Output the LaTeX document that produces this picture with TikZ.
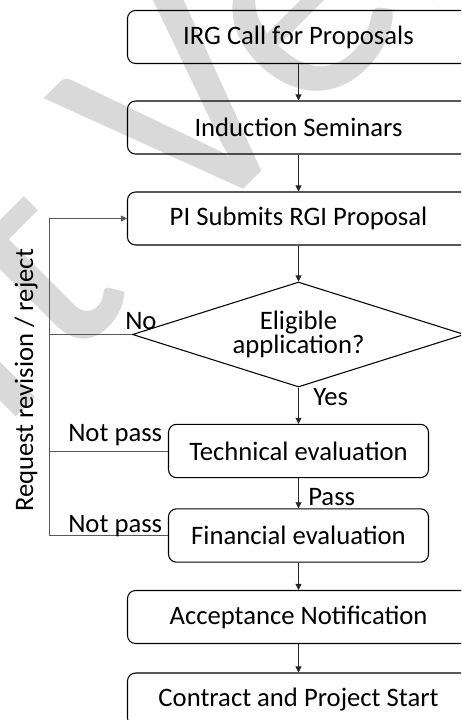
\documentclass[tikz,border=0pt]{standalone}
\usepackage{fontspec}
\setmainfont{Carlito}
\usetikzlibrary{arrows.meta,shapes.geometric}
\definecolor{wm}{RGB}{217,217,217}
\begin{document}
\begin{tikzpicture}[x=0.75pt,y=-0.75pt,
  txt/.style={font=\fontsize{20}{24}\selectfont, inner sep=0pt},
  box/.style={txt, draw=black, line width=0.8pt, rounded corners=6pt,
    minimum width=256.5pt, minimum height=39.75pt},
  sbox/.style={box, minimum width=195pt, minimum height=40pt},
  dia/.style={txt, font=\fontsize{20}{17.25}\selectfont, draw=black, line width=0.8pt,
    diamond, shape aspect=3.16, minimum width=249pt, minimum height=78.75pt, align=center},
  arr/.style={draw=black!85, line width=0.6pt, -{Triangle[length=4.5pt,width=4.5pt]}},
  fb/.style={draw=black!65, line width=0.6pt},
  lbl/.style={txt, anchor=base west},
]
\clip (0,0) rectangle (461,720);
% watermark
\node[rotate=45, anchor=base west, text=wm, inner sep=0pt,
  font=\fontsize{240}{240}\selectfont] (wmark) at (-323,756) {Draft Version};
% main flow
\node[box] (b1) at (298.5,37) {IRG Call for Proposals};
\node[box] (b2) at (298.5,127.5) {Induction Seminars};
\node[box] (b3) at (298.5,218.5) {PI Submits RGI Proposal};
\node[dia] (d) at (298.5,334.5) {Eligible\\application?};
\node[sbox] (t) at (298.5,451) {Technical evaluation};
\node[sbox] (f) at (298.5,535.5) {Financial evaluation};
\node[box] (a) at (298.5,617) {Acceptance Notification};
\node[box] (c) at (298.5,699.5) {Contract and Project Start};
\draw[arr] (b1) -- (b2);
\draw[arr] (b2) -- (b3);
\draw[arr] (b3) -- (d);
\draw[arr] (d) -- (t);
\draw[arr] (t) -- (f);
\draw[arr] (f) -- (a);
\draw[arr] (a) -- (c);
% feedback
\coordinate (lx) at (49,219);
\draw[fb] (d.west) -- (d.west -| lx);
\draw[fb] (t.west) -- (t.west -| lx);
\draw[fb, -{Triangle[length=4.5pt,width=4.5pt]}] (f.west) -- (f.west -| lx) |- (b3.west);
% labels
\node[lbl] (no) at (125,329) {No};
\node[lbl] (yes) at (313,405) {Yes};
\node[lbl] (np1) at (68,441) {Not pass};
\node[lbl] (pass) at (308,505) {Pass};
\node[lbl] (np2) at (68,532) {Not pass};
\node[txt, rotate=90, anchor=base] (req) at (33,380.5) {Request revision / reject};
\end{tikzpicture}
\end{document}
